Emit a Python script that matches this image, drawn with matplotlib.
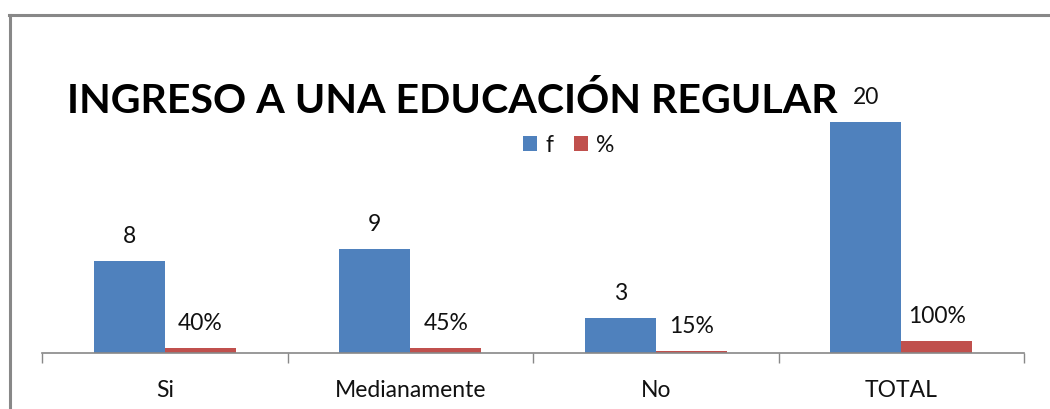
import matplotlib
matplotlib.use("Agg")
import matplotlib.pyplot as plt
from matplotlib.lines import Line2D
from matplotlib.patches import Patch

categories = ['Si', 'Medianamente', 'No', 'TOTAL']
f_values = [8, 9, 3, 20]
pct_values = [0.40, 0.45, 0.15, 1.00]
pct_labels = ['40%', '45%', '15%', '100%']
series_names = ['f', '%']
title_text = 'INGRESO A UNA EDUCACIÓN REGULAR'

BLUE = '#4F81BD'
RED = '#C0504D'
GRAY = '#888888'
TXT = '#111111'
FONT = ['Lato', 'DejaVu Sans']
FS = 16.5

W, H = 1050, 409
fig = plt.figure(figsize=(W / 100, H / 100), dpi=100)
fig.patch.set_facecolor('white')

ax = fig.add_axes([42 / W, 56 / H, 982 / W, 288.75 / H])
ax.set_xlim(-0.5, len(categories) - 0.5)
ax.set_ylim(0, 25)

bw = 0.29
xs = list(range(len(categories)))
ax.bar([x - bw / 2 for x in xs], f_values, width=bw, color=BLUE, zorder=2)
ax.bar([x + bw / 2 for x in xs], pct_values, width=bw, color=RED, zorder=2)

for x, v in zip(xs, f_values):
    ax.annotate(str(v), xy=(x - bw / 2, v), xytext=(0, 13), textcoords='offset points',
                ha='center', va='baseline', fontsize=FS, family=FONT, color=TXT)
for x, v, lab in zip(xs, pct_values, pct_labels):
    ax.annotate(lab, xy=(x + bw / 2, v), xytext=(0, 13), textcoords='offset points',
                ha='center', va='baseline', fontsize=FS, family=FONT, color=TXT)

for s in ['top', 'right', 'left']:
    ax.spines[s].set_visible(False)
ax.spines['bottom'].set_color(GRAY)
ax.spines['bottom'].set_linewidth(1.2)
ax.spines['bottom'].set_zorder(5)
ax.set_yticks([])

ax.set_xticks([x - 0.5 for x in xs] + [len(categories) - 0.5])
ax.set_xticklabels([])
ax.tick_params(axis='x', which='major', direction='out', length=7, width=1, color=GRAY)
ax.set_xticks(xs, minor=True)
ax.set_xticklabels(categories, minor=True)
ax.tick_params(axis='x', which='minor', length=0, pad=31.5)
for lab in ax.get_xticklabels(minor=True):
    lab.set_verticalalignment('baseline')
    lab.set_fontsize(FS)
    lab.set_family(FONT)
    lab.set_color(TXT)

# Title, fitted to the reference width
t = fig.text(67 / W, 1 - 113 / H, title_text, ha='left', va='baseline',
             fontsize=30, fontweight='bold', family=FONT, color='black')
fig.canvas.draw()
bb = t.get_window_extent()
t.set_fontsize(30 * 772 / bb.width)

# Legend
handles = [Patch(facecolor=BLUE, edgecolor='none'), Patch(facecolor=RED, edgecolor='none')]
leg = fig.legend(handles, series_names, loc='center', bbox_to_anchor=(569 / W, 1 - 145 / H),
                 ncol=2, frameon=False, handlelength=0.62, handleheight=0.62,
                 handletextpad=0.35, columnspacing=0.9, prop={'family': FONT, 'size': FS},
                 borderaxespad=0, borderpad=0)
for txt in leg.get_texts():
    txt.set_color(TXT)

# Outer chart frame (top and left edges visible)
fig.add_artist(Line2D([8.5 / W, 1.0], [1 - 14.5 / H, 1 - 14.5 / H],
                      transform=fig.transFigure, color=GRAY, lw=2.2))
fig.add_artist(Line2D([9.5 / W, 9.5 / W], [0, 1 - 14.5 / H],
                      transform=fig.transFigure, color=GRAY, lw=2.2))

fig.savefig('out.png', dpi=100, facecolor='white')
